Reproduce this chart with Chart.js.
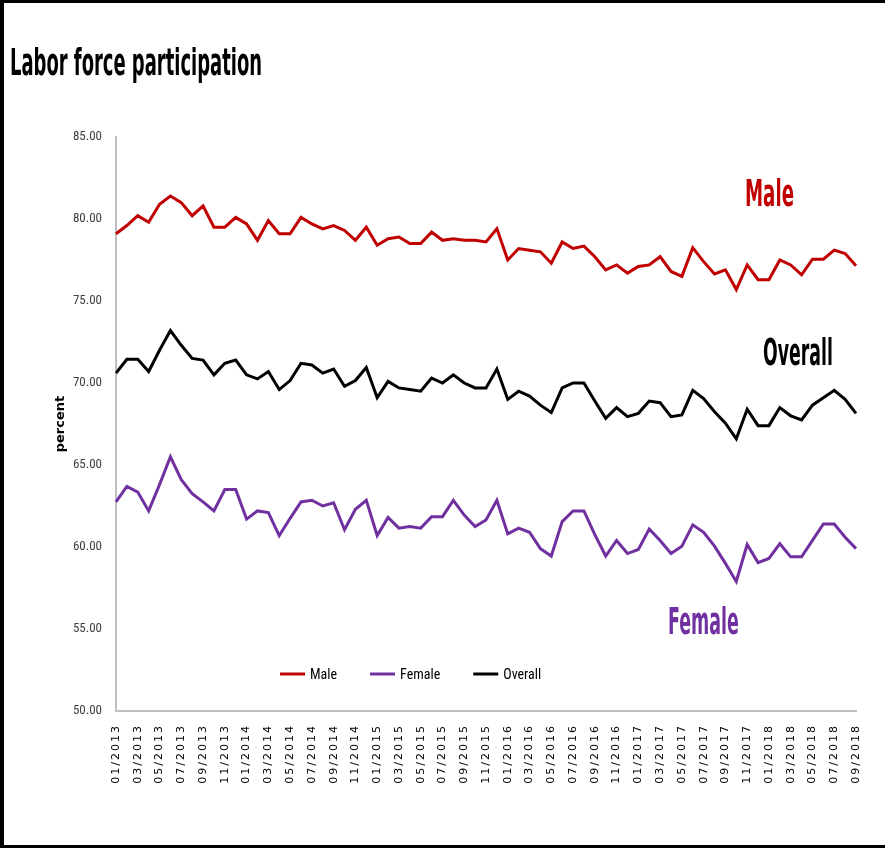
<!DOCTYPE html>
<html><head><meta charset="utf-8">
<script src="https://cdn.jsdelivr.net/npm/chart.js@4.4.1/dist/chart.umd.min.js"></script>
<style>
html,body{margin:0;padding:0;background:#fff;}
#wrap{position:relative;width:885px;height:848px;overflow:hidden;background:#fff;}
canvas{position:absolute;left:0;top:0;}
.bl{position:absolute;background:#000;}
.txt{position:absolute;white-space:nowrap;font-family:"Liberation Sans Narrow","DejaVu Sans Condensed","Roboto Condensed","Open Sans","Liberation Sans",sans-serif;font-weight:bold;transform-origin:0 0;line-height:1;font-size:38px;}
</style></head><body>
<div id="wrap">
<canvas id="c" width="885" height="848"></canvas>
<div class="bl" style="left:0;top:0;width:4px;height:848px"></div>
<div class="bl" style="left:0;top:0;width:885px;height:3px"></div>
<div class="bl" style="left:0;top:845px;width:885px;height:3px"></div>
<div class="txt" data-w="252" style="left:10px;top:43px;color:#000">Labor force participation</div>
<div class="txt" data-w="49" style="left:745px;top:174px;color:#C00000">Male</div>
<div class="txt" data-w="70" style="left:763px;top:333px;color:#000">Overall</div>
<div class="txt" data-w="71" style="left:668px;top:602px;color:#7030A0">Female</div>
</div>
<script>
const months = ["01/2013","02/2013","03/2013","04/2013","05/2013","06/2013","07/2013","08/2013","09/2013","10/2013","11/2013","12/2013",
"01/2014","02/2014","03/2014","04/2014","05/2014","06/2014","07/2014","08/2014","09/2014","10/2014","11/2014","12/2014",
"01/2015","02/2015","03/2015","04/2015","05/2015","06/2015","07/2015","08/2015","09/2015","10/2015","11/2015","12/2015",
"01/2016","02/2016","03/2016","04/2016","05/2016","06/2016","07/2016","08/2016","09/2016","10/2016","11/2016","12/2016",
"01/2017","02/2017","03/2017","04/2017","05/2017","06/2017","07/2017","08/2017","09/2017","10/2017","11/2017","12/2017",
"01/2018","02/2018","03/2018","04/2018","05/2018","06/2018","07/2018","08/2018","09/2018"];

const male = [79.1,79.6,80.2,79.8,80.9,81.4,81.0,80.2,80.8,79.5,79.5,80.1,79.7,78.7,79.9,79.1,79.1,80.1,79.7,79.4,79.6,79.3,78.7,
79.5,78.4,78.8,78.9,78.5,78.5,79.2,78.7,78.8,78.7,78.7,78.6,79.4,77.5,78.2,78.1,78.0,77.3,78.6,78.2,78.35,77.7,76.9,
77.2,76.7,77.1,77.2,77.7,76.8,76.5,78.25,77.4,76.65,76.9,75.7,77.2,76.3,76.3,77.5,77.2,76.6,77.55,77.55,78.1,77.9,77.15];

const female = [62.75,63.7,63.35,62.2,63.8,65.5,64.1,63.25,62.75,62.2,63.5,63.5,61.7,62.2,62.1,60.7,61.75,62.75,62.85,62.5,62.7,61.05,62.3,
62.85,60.7,61.8,61.15,61.25,61.15,61.85,61.85,62.85,61.95,61.25,61.65,62.85,60.8,61.15,60.9,59.9,59.45,61.55,62.2,62.2,60.75,59.45,
60.4,59.6,59.85,61.1,60.4,59.6,60.05,61.35,60.9,60.05,59.0,57.9,60.15,59.05,59.3,60.2,59.4,59.4,60.4,61.4,61.4,60.6,59.9];

const overall = [70.6,71.45,71.45,70.7,72.0,73.2,72.3,71.5,71.4,70.5,71.2,71.4,70.5,70.25,70.7,69.6,70.15,71.2,71.1,70.6,70.85,69.8,70.15,
70.95,69.1,70.1,69.7,69.6,69.5,70.3,70.0,70.5,70.0,69.7,69.7,70.85,69.0,69.5,69.2,68.65,68.2,69.7,70.0,70.0,68.9,67.85,
68.5,67.95,68.15,68.9,68.8,67.95,68.05,69.55,69.05,68.25,67.55,66.6,68.4,67.4,67.4,68.5,68.0,67.75,68.65,69.1,69.55,69.0,68.15];

const seriesNames = ["Male","Female","Overall"];
const seriesColors = ["#C00000","#7030A0","#000000"];

const inLegend = {
  id:'inLegend',
  afterDatasetsDraw(chart){
    const ctx = chart.ctx;
    const y = chart.chartArea.bottom - 37;
    let x = 280;
    ctx.save();
    ctx.font = '14px "Liberation Sans Narrow","Roboto Condensed","Liberation Sans",sans-serif';
    ctx.textBaseline = 'middle';
    ctx.textAlign = 'left';
    chart.data.datasets.forEach(ds=>{
      ctx.strokeStyle = ds.borderColor;
      ctx.lineWidth = 3;
      ctx.beginPath(); ctx.moveTo(x,y); ctx.lineTo(x+25,y); ctx.stroke();
      ctx.fillStyle = '#000';
      ctx.fillText(ds.label, x+30, y+1);
      x += 30 + ctx.measureText(ds.label).width + 33;
    });
    ctx.restore();
  }
};

const datasets = seriesNames.map((n,i)=>({
  label:n, data:[male,female,overall][i], borderColor:seriesColors[i], backgroundColor:seriesColors[i],
  borderWidth:3, pointRadius:0, tension:0, fill:false
}));

const chart = new Chart(document.getElementById('c'), {
  type:'line',
  data:{labels:months, datasets},
  options:{
    responsive:false, animation:false,
    layout:{padding:{top:137,right:29,left:0,bottom:0}},
    plugins:{legend:{display:false}, tooltip:{enabled:false}},
    scales:{
      x:{
        offset:false,
        grid:{display:false, drawTicks:false},
        border:{display:true, color:'#BFBFBF', width:2},
        ticks:{autoSkip:false, maxRotation:90, minRotation:90, padding:13, color:'#000',
          font:{family:'DejaVu Sans', size:11},
          callback:(v,i)=> i%2===0 ? months[i] : ''},
        afterFit:s=>{s.height=137;}
      },
      y:{
        min:50, max:85,
        grid:{display:false, drawTicks:false},
        border:{display:true, color:'#BFBFBF', width:2},
        ticks:{stepSize:5, padding:14, color:'#404040',
          font:{family:'"Liberation Sans Narrow","Roboto Condensed","Liberation Sans"', size:13},
          callback:v=>Number(v).toFixed(2)},
        title:{display:true, text:'percent', color:'#000',
          font:{family:'DejaVu Sans', size:13, weight:'bold'}, padding:{top:53,bottom:0}},
        afterFit:s=>{s.width=116;}
      }
    }
  },
  plugins:[inLegend]
});

// spaced-out x tick labels as in the reference
const xs = chart.scales.x;
const origDrawLabels = xs.drawLabels;
xs.drawLabels = function(area){
  const c = this.ctx;
  c.save();
  c.letterSpacing = '2px';
  origDrawLabels.call(this, area);
  c.restore();
};
chart.draw();

document.querySelectorAll('.txt').forEach(el=>{
  const w = parseFloat(el.dataset.w);
  el.style.transform = 'scaleX(' + (w/el.offsetWidth) + ')';
});
</script>
</body></html>
